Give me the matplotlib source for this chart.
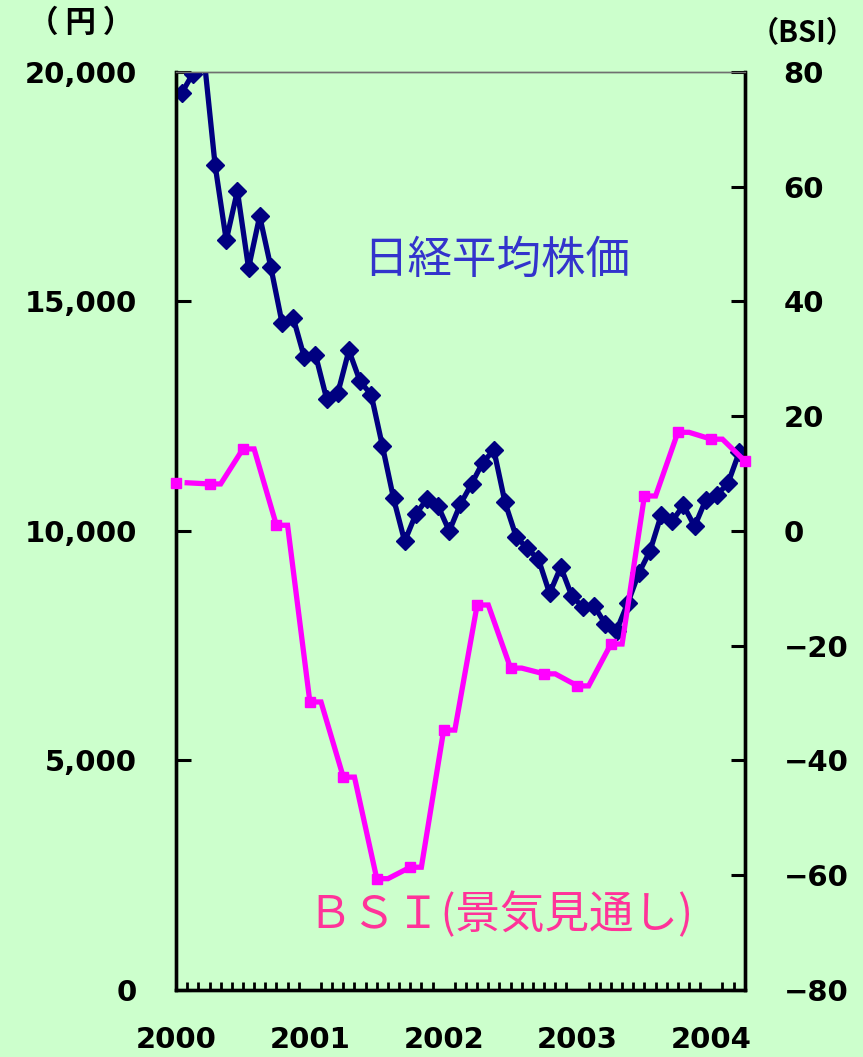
import numpy as np
import matplotlib
matplotlib.use("Agg")
import matplotlib.pyplot as plt

# ---- data ----
years = ["2000", "2001", "2002", "2003", "2004"]
# Nikkei average, monthly, Jan 2000 - Mar 2004 (yen)
nikkei = [19540, 19960, 20337, 17974, 16332, 17411, 15727, 16861, 15747, 14539, 14649, 13785,
          13843, 12883, 12999, 13934, 13262, 12969, 11860, 10713, 9774, 10366, 10697, 10542,
          9997, 10587, 11024, 11492, 11763, 10621, 9877, 9619, 9383, 8640, 9215, 8578,
          8339, 8363, 7972, 7831, 8425, 9083, 9563, 10344, 10219, 10560, 10101, 10677,
          10784, 11042, 11715]
# BSI (business outlook), quarterly
bsi = [8.4, 8.2, 14.3, 1.0, -29.8, -42.9, -60.6, -58.6, -34.7, -12.9,
       -23.9, -24.9, -27.0, -19.7, 6.1, 17.2, 16.0, 12.2]

BG = "#CCFFCC"
NAVY = "#000080"
MAG = "#FF00FF"
CJK = ["Noto Sans CJK JP", "DejaVu Sans"]

fig = plt.figure(figsize=(8.63, 10.57), dpi=100, facecolor=BG)
ax = fig.add_axes([0.204, 0.0634, 0.659, 0.8685])
ax.set_facecolor(BG)
ax2 = ax.twinx()
ax2.patch.set_visible(False)

n = len(nikkei)
xm = np.arange(n) + 0.5
ax.plot(xm, nikkei, color=NAVY, lw=3.8, marker="D", ms=9, mec=NAVY, mfc=NAVY, zorder=3)
ax.set_xlim(0, 51)
ax.set_ylim(0, 20000)

# BSI: marker at each survey quarter, value held flat one month, then to next
q = np.arange(len(bsi)) * 3
lx, ly = [], []
for i, v in enumerate(bsi):
    if i == 0:
        lx += [q[i], np.nan, q[i] + 1]
        ly += [v, np.nan, v]
    else:
        lx += [q[i], q[i] + 1]
        ly += [v, v]
ax2.plot(lx, ly, color=MAG, lw=3.8, zorder=3, solid_joinstyle="miter")
ax2.plot(q, bsi, ls="none", marker="s", ms=7.5, color=MAG, zorder=4, clip_on=False)
ax2.set_ylim(-80, 80)
ax2.set_xlim(0, 51)

# ticks
ax.set_yticks([0, 5000, 10000, 15000, 20000])
ax.set_yticklabels(["0", "5,000", "10,000", "15,000", "20,000"])
ax2.set_yticks([-80, -60, -40, -20, 0, 20, 40, 60, 80])
ax2.set_yticklabels(["\u221280", "\u221260", "\u221240", "\u221220", "0", "20", "40", "60", "80"])
ax.set_xticks(np.arange(0, 49, 12))
ax.set_xticklabels(years)
ax.set_xticks(np.arange(1, 51), minor=True)

for lab in ax.get_yticklabels() + ax.get_xticklabels() + ax2.get_yticklabels():
    lab.set_fontfamily("DejaVu Sans")
    lab.set_fontweight("bold")
    lab.set_fontsize(21)
for lab in ax2.get_yticklabels():
    lab.set_horizontalalignment("left")

ax.tick_params(axis="y", direction="in", length=11, width=2.2, pad=28, colors="black")
ax.tick_params(axis="x", which="major", direction="in", length=0, width=2, pad=26)
ax.tick_params(axis="x", which="minor", direction="in", length=6, width=2)
ax2.tick_params(axis="y", direction="in", length=10, width=2.2, pad=28)

for a in (ax, ax2):
    a.spines["left"].set_linewidth(2.4)
    a.spines["bottom"].set_linewidth(2.4)
    a.spines["right"].set_linewidth(2.4)
    a.spines["top"].set_linewidth(1.0)
    a.spines["top"].set_color("#707070")

# annotations
fig.text(0.575, 0.754, "日経平均株価", family=CJK, fontsize=32, color="#3333CC",
         ha="center", va="center")
fig.text(0.580, 0.134, "ＢＳＩ(景気見通し)", family=CJK, fontsize=32, color="#FF3399",
         ha="center", va="center")
fig.text(0.093, 0.978, "（ 円 ）", family=CJK, fontsize=22, weight="bold",
         ha="center", va="center")
fig.text(0.930, 0.969, "（BSI）", family=CJK, fontsize=21, weight="bold",
         ha="center", va="center")

fig.savefig("out.png", dpi=100, facecolor=BG)
